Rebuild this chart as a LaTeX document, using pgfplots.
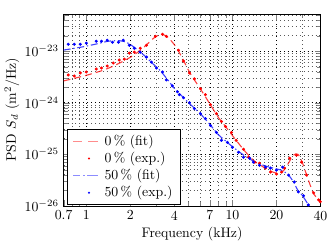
\documentclass[border=0pt]{standalone}
\usepackage{pgfplots}
\pgfplotsset{compat=1.18}
\pgfplotsset{
  redfitleg/.style={legend image code/.code={%
    \fill[red!60, draw=none] (0cm,-0.45pt) rectangle (0.25cm,0.45pt);
    \fill[red!60, draw=none] (0.39cm,-0.45pt) rectangle (0.64cm,0.45pt);}},
  bluefitleg/.style={legend image code/.code={%
    \fill[blue!60, draw=none] (0cm,-0.45pt) rectangle (0.2cm,0.45pt);
    \fill[blue!60, draw=none] (0.27cm,-0.45pt) rectangle (0.31cm,0.45pt);
    \fill[blue!60, draw=none] (0.38cm,-0.45pt) rectangle (0.64cm,0.45pt);}},
  redexpleg/.style={legend image code/.code={\fill[red, draw=none] (0.42cm,0cm) circle (0.8pt);}},
  blueexpleg/.style={legend image code/.code={\fill[blue, draw=none] (0.42cm,0cm) circle (0.8pt);}},
}
\begin{document}
\begin{tikzpicture}
\begin{axis}[
  scale only axis,
  width=186pt, height=139pt,
  xmode=log, ymode=log,
  xmin=0.7, xmax=40,
  ymin=1e-26, ymax=5.3e-23,
  xtick={0.7,1,2,4,7,10,20,40},
  xticklabels={0.7,1,2,4,7,10,20,40},
  minor xtick={0.8,0.9,3,5,6,8,9,30},
  grid=both,
  major grid style={black, dash pattern=on 0.45pt off 2.4pt},
  minor grid style={black!65, dash pattern=on 0.45pt off 2.4pt},
  tick align=inside,
  xlabel={Frequency (kHz)},
  ylabel={PSD $S_d$ ($\mathrm{m^2/Hz}$)},
  xlabel style={yshift=2pt},
  ylabel style={yshift=-3pt},
  legend style={at={(0.012,0.005)}, anchor=south west,
    legend cell align=left, row sep=-0.6pt, inner xsep=4pt, inner ysep=2pt,
    /tikz/every odd column/.append style={column sep=3pt}},
  clip=true,
]
% 0 % fit
\addplot[red, opacity=0.75, thick, smooth, dash pattern=on 5pt off 3pt, redfitleg] coordinates {
(0.70,2.65e-24) (0.80,2.9e-24) (1.00,3.4e-24) (1.25,4.1e-24) (1.50,5.0e-24)
(1.75,6.2e-24) (2.00,7.6e-24) (2.30,1.0e-23) (2.60,1.35e-23) (2.90,1.8e-23)
(3.20,2.1e-23) (3.50,2.0e-23) (3.80,1.6e-23) (4.20,1.1e-23) (4.70,6.0e-24)
(5.20,3.5e-24) (6.00,1.9e-24) (7.00,9.5e-25) (8.00,5.2e-25) (9.00,3.4e-25)
(10.0,2.3e-25) (12.0,1.2e-25) (14.0,7.5e-26) (16.0,5.8e-26) (18.0,4.8e-26)
(20.0,4.3e-26) (22.0,4.6e-26) (24.0,6.5e-26) (26.0,9.5e-26) (28.0,1.0e-25)
(30.0,7.0e-26) (33.0,3.2e-26) (36.0,1.7e-26) (40.0,1.2e-26)};
\addlegendentry{0\,\% (fit)}
% 0 % exp
\addplot[only marks, mark=*, mark size=0.9pt, red, redexpleg] coordinates {
(0.753,3.46e-24) (0.828,3.3e-24) (0.91,3.78e-24) (1.0,3.95e-24) (1.17,4.5e-24)
(1.27,4.71e-24) (1.39,5.15e-24) (1.53,5.88e-24) (1.68,6.71e-24) (1.82,7.0e-24)
(1.97,9.15e-24) (2.13,9.56e-24) (2.34,1.14e-23) (2.58,1.30e-23) (2.97,1.94e-23)
(3.32,2.12e-23) (3.53,1.94e-23) (4.27,1.04e-23) (4.62,6.42e-24) (5.08,3.78e-24)
(5.49,2.9e-24) (6.04,1.86e-24) (6.53,1.43e-24) (7.07,9.16e-25) (7.77,6.14e-25)
(8.41,4.31e-25) (8.95,3.45e-25) (9.84,2.65e-25) (10.6,1.86e-25) (11.9,1.25e-25)
(12.9,8.75e-26) (14.2,7.02e-26) (15.3,6.71e-26) (16.8,5.38e-26) (18.2,4.51e-26)
(20.0,4.12e-26) (21.7,4.51e-26) (22.7,5.38e-26) (24.6,8.38e-26) (27.4,9.57e-26)
(29.7,7.02e-26) (32.1,3.94e-26) (35.9,1.78e-26) (38.8,1.30e-26) (39.9,1.2e-26)};
\addlegendentry{0\,\% (exp.)}
% 50 % fit
\addplot[blue, opacity=0.75, thick, smooth, dash pattern=on 5pt off 2pt on 1pt off 2pt, bluefitleg] coordinates {
(0.70,1.05e-23) (0.85,1.15e-23) (1.00,1.25e-23) (1.20,1.4e-23) (1.40,1.55e-23)
(1.60,1.6e-23) (1.80,1.55e-23) (2.00,1.35e-23) (2.20,1.1e-23) (2.50,8.2e-24)
(2.80,6.0e-24) (3.20,4.2e-24) (3.60,2.8e-24) (4.00,1.9e-24) (4.50,1.35e-24)
(5.00,1.0e-24) (6.00,6.2e-25) (7.00,3.8e-25) (8.00,2.4e-25) (9.00,1.8e-25)
(10.0,1.4e-25) (12.0,9.5e-26) (14.0,7.3e-26) (16.0,6.2e-26) (18.0,5.6e-26)
(20.0,5.2e-26) (22.0,4.8e-26) (24.0,4.0e-26) (26.0,3.0e-26) (28.0,2.0e-26)
(30.0,1.6e-26) (33.0,1.05e-26) (35.0,8.0e-27)};
\addlegendentry{50\,\% (fit)}
% 50 % exp
\addplot[only marks, mark=*, mark size=0.9pt, blue, blueexpleg] coordinates {
(0.753,1.36e-23) (0.828,1.36e-23) (0.91,1.36e-23) (1.0,1.43e-23) (1.17,1.56e-23)
(1.27,1.56e-23) (1.39,1.63e-23) (1.51,1.49e-23) (1.66,1.49e-23) (1.79,1.63e-23)
(1.97,1.30e-23) (2.13,1.14e-23) (2.34,9.56e-24) (2.58,7.67e-24) (2.79,6.14e-24)
(3.02,4.71e-24) (3.32,3.95e-24) (3.53,2.77e-24) (3.88,2.12e-24) (4.20,1.63e-24)
(4.33,1.43e-24) (4.62,1.25e-24) (5.08,1.0e-24) (5.49,7.67e-25) (6.04,6.14e-25)
(6.53,4.92e-25) (7.07,3.61e-25) (7.77,2.65e-25) (8.41,1.86e-25) (9.23,1.70e-25)
(10.0,1.36e-25) (11.0,1.09e-25) (11.9,8.75e-26) (13.1,8.38e-26) (13.9,7.02e-26)
(15.3,6.14e-26) (16.8,5.62e-26) (18.2,5.38e-26) (20.0,4.92e-26) (22.0,5.62e-26)
(24.2,3.94e-26) (26.5,2.9e-26) (28.2,1.86e-26) (30.6,1.56e-26) (33.0,1.04e-26)};
\addlegendentry{50\,\% (exp.)\hspace{6pt}}
\end{axis}
\path (current axis.north east) ++(0,10pt);
\end{tikzpicture}
\end{document}
